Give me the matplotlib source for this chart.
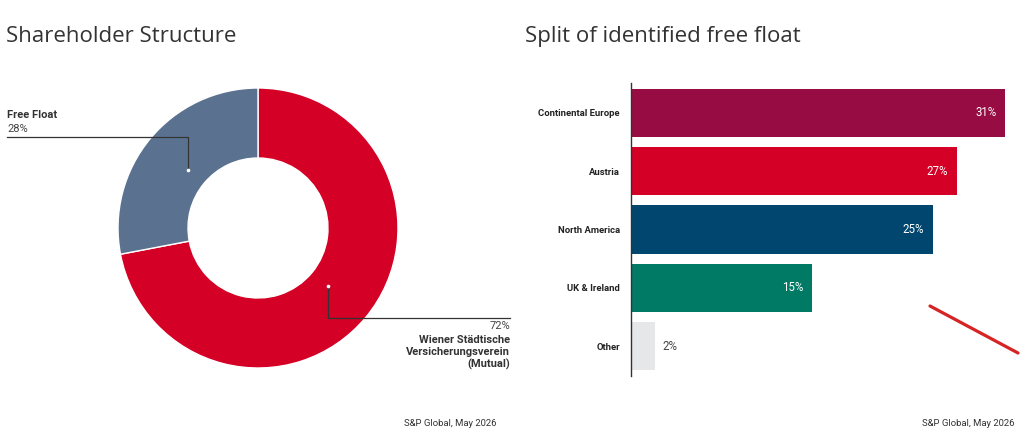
import matplotlib
matplotlib.use("Agg")
import matplotlib.pyplot as plt
from matplotlib.lines import Line2D
import numpy as np

# ---- data ----
holders = ["Wiener Städtische\nVersicherungsverein\n(Mutual)", "Free Float"]
holder_share = [72, 28]
holder_colors = ["#D50025", "#5A7290"]

regions = ["Continental Europe", "Austria", "North America", "UK & Ireland", "Other"]
region_share = [31, 27, 25, 15, 2]
region_colors = ["#970C42", "#D50025", "#00466E", "#007A64", "#E6E7E9"]

source = "S&P Global, May 2026"

W, H = 1024, 437
fig = plt.figure(figsize=(W / 100, H / 100), dpi=100)
fig.patch.set_facecolor("white")

def fx(px):
    return px / W

def fy(py):
    return 1 - py / H

title_font = ["Open Sans", "DejaVu Sans"]
body_font = ["Roboto", "DejaVu Sans"]
dark = "#333333"

# ---- titles ----
fig.text(fx(6), fy(36.5), "Shareholder Structure", fontsize=16, family=title_font,
         color=dark, va="center", ha="left")
fig.text(fx(525), fy(36.5), "Split of identified free float", fontsize=16, family=title_font,
         color=dark, va="center", ha="left")

# ---- donut ----
cx, cy, r = 258, 228, 140
axd = fig.add_axes([fx(cx - r), fy(cy + r), 2 * r / W, 2 * r / H])
wedges, _ = axd.pie(holder_share, colors=holder_colors, startangle=90, counterclock=False,
                    radius=1.0, wedgeprops=dict(width=0.5, edgecolor="white", linewidth=1))
axd.set_xlim(-1, 1)
axd.set_ylim(-1, 1)
axd.set_aspect("auto")
axd.axis("off")

def mid_point(w, rad):
    a = np.deg2rad((w.theta1 + w.theta2) / 2)
    return rad * np.cos(a), rad * np.sin(a)

# Free Float leader (left)
x0, y0 = mid_point(wedges[1], 0.65)
yl = 0.65
xend = (7 - cx) / r
axd.plot([x0, x0, xend], [y0, yl, yl], color=dark, lw=0.9, clip_on=False)
axd.plot([x0], [y0], marker="o", ms=1.6, color="white", clip_on=False)
axd.annotate(f"{holder_share[1]}%", (xend, yl), xytext=(0, 2.5), textcoords="offset points",
             ha="left", va="bottom", fontsize=8, family=body_font, color="#444444",
             annotation_clip=False)
axd.annotate(holders[1], (xend, yl), xytext=(0, 12), textcoords="offset points",
             ha="left", va="bottom", fontsize=8, family=body_font, color=dark,
             fontweight="bold", annotation_clip=False)

# Wiener leader (right)
x1, y1 = mid_point(wedges[0], 0.65)
yr = -0.645
xend2 = (510 - cx) / r
axd.plot([x1, x1, xend2], [y1, yr, yr], color=dark, lw=0.9, clip_on=False)
axd.plot([x1], [y1], marker="o", ms=1.6, color="white", clip_on=False)
axd.annotate(f"{holder_share[0]}%", (xend2, yr), xytext=(0, -2), textcoords="offset points",
             ha="right", va="top", fontsize=8, family=body_font, color="#444444",
             annotation_clip=False)
axd.annotate(holders[0], (xend2, yr), xytext=(0, -12), textcoords="offset points",
             ha="right", va="top", fontsize=8, family=body_font, color=dark,
             fontweight="bold", linespacing=1.25, multialignment="right",
             annotation_clip=False)

fig.text(fx(497), fy(423), source, fontsize=6.8, family=body_font, color=dark,
         ha="right", va="center")

# ---- bar chart ----
axb = fig.add_axes([fx(631), fy(376), (1005 - 631) / W, (376 - 83) / H])
y = np.arange(len(regions))
axb.barh(y, region_share, height=0.83, color=region_colors)
axb.set_xlim(0, 31)
axb.set_ylim(len(regions) - 0.485, -0.515)
axb.set_yticks(y)
axb.set_yticklabels(regions, fontsize=6.8, family=body_font, fontweight="bold", color="#222222")
axb.tick_params(axis="y", length=0, pad=8)
axb.set_xticks([])
for s in ["top", "right", "bottom"]:
    axb.spines[s].set_visible(False)
axb.spines["left"].set_color(dark)
axb.spines["left"].set_linewidth(1)
axb.patch.set_alpha(0)

for yi, v in zip(y, region_share):
    if v >= 5:
        axb.annotate(f"{v}%", (v, yi), xytext=(-6, 0), textcoords="offset points",
                     ha="right", va="center", fontsize=8.3, family=body_font, color="white")
    else:
        axb.annotate(f"{v}%", (v, yi), xytext=(5, 0), textcoords="offset points",
                     ha="left", va="center", fontsize=8.3, family=body_font, color="#444444")

fig.text(fx(1015), fy(423), source, fontsize=6.8, family=body_font, color=dark,
         ha="right", va="center")

# decorative red stroke
fig.add_artist(Line2D([fx(930), fx(1018)], [fy(306), fy(353)], color="#D62424", lw=2.3,
                      solid_capstyle="round"))

fig.savefig("out.png", dpi=100, facecolor="white")
